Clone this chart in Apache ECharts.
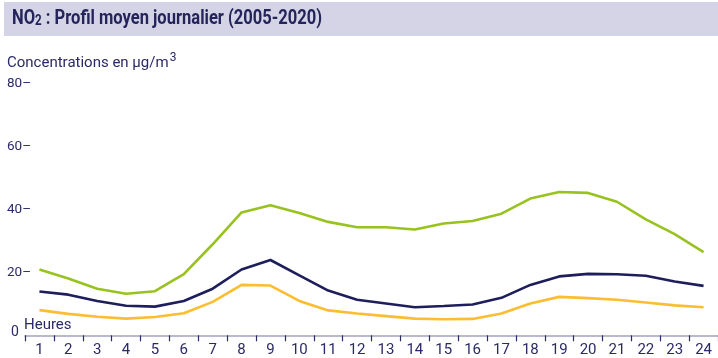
<!DOCTYPE html>
<html>
<head>
<meta charset="utf-8">
<script src="https://cdn.jsdelivr.net/npm/echarts@6/dist/echarts.min.js"></script>
<style>
  html, body { margin: 0; padding: 0; background: #ffffff; }
  #chart { width: 718px; height: 358px; }
</style>
</head>
<body>
<div id="chart"></div>
<script>
// Hours of the day (x axis categories)
const hours = ['1','2','3','4','5','6','7','8','9','10','11','12','13','14','15','16','17','18','19','20','21','22','23','24'];

// Mean NO2 concentration per hour, µg/m3
const seriesGreen = [20.9, 18.0, 14.8, 13.2, 14.0, 19.4, 28.9, 39.0, 41.3, 38.8, 36.0, 34.3, 34.3, 33.6, 35.5, 36.3, 38.6, 43.4, 45.5, 45.2, 42.4, 36.8, 32.1, 26.4];
const seriesNavy = [13.9, 12.9, 10.9, 9.4, 9.1, 10.9, 14.8, 20.9, 23.9, 19.0, 14.2, 11.3, 10.1, 8.9, 9.3, 9.8, 11.9, 16.0, 18.7, 19.5, 19.4, 18.9, 17.1, 15.7];
const seriesYellow = [8.0, 6.8, 5.9, 5.3, 5.8, 7.0, 10.6, 16.0, 15.8, 10.9, 7.9, 6.9, 6.1, 5.3, 5.1, 5.2, 6.9, 10.1, 12.2, 11.8, 11.3, 10.4, 9.5, 8.9];

// Value axis ticks
const yTicks = [0, 20, 40, 60, 80];

const TEXT = '#2b2a66';
const FONT = 'Roboto, "Open Sans", sans-serif';
const TITLE_FONT = 'Roboto, sans-serif';

// Condensed look for the heading: squeeze the bold text to its target width
function titleScale(targetWidth) {
  const ctx = document.createElement('canvas').getContext('2d');
  ctx.font = 'bold 20px ' + TITLE_FONT;
  const w1 = ctx.measureText('NO').width;
  const w3 = ctx.measureText(' : Profil moyen journalier (2005-2020)').width;
  ctx.font = 'bold 14px ' + TITLE_FONT;
  const w2 = ctx.measureText('2').width;
  return targetWidth / (w1 + w2 + w3);
}

const chart = echarts.init(document.getElementById('chart'), null, { renderer: 'canvas' });

function lineSeries(name, data, color) {
  return {
    name: name,
    type: 'line',
    data: data,
    symbol: 'none',
    smooth: false,
    lineStyle: { color: color, width: 2.6 },
    itemStyle: { color: color },
    z: 3
  };
}

chart.setOption({
  animation: false,
  backgroundColor: '#ffffff',
  grid: { left: 25, top: 83.3, width: 702.3, bottom: 22.7, containLabel: false },
  xAxis: {
    type: 'category',
    data: hours,
    boundaryGap: true,
    axisLine: { show: true, lineStyle: { color: '#a3a3bd', width: 1.5 } },
    axisTick: { show: true, alignWithLabel: false, length: 6, lineStyle: { color: '#2b2a66', width: 1.2 } },
    axisLabel: { color: TEXT, fontFamily: FONT, fontSize: 15, margin: 7, interval: 0 },
    splitLine: { show: false }
  },
  yAxis: {
    type: 'value',
    min: yTicks[0],
    max: yTicks[yTicks.length - 1],
    interval: 20,
    axisLine: { show: false },
    axisTick: { show: false },
    splitLine: { show: false },
    axisLabel: {
      align: 'left',
      margin: 18,
      color: TEXT,
      fontFamily: FONT,
      fontSize: 13.5,
      formatter: function (v) {
        return v === 0 ? '{z|0}' : v + '\u2013';
      },
      rich: {
        z: { color: TEXT, fontFamily: FONT, fontSize: 14, padding: [0, 0, 6, 4] }
      }
    }
  },
  series: [
    lineSeries('green', seriesGreen, '#98c21f'),
    lineSeries('navy', seriesNavy, '#1f1e5c'),
    lineSeries('yellow', seriesYellow, '#fcbd30')
  ],
  graphic: [
    {
      type: 'rect',
      shape: { x: 4, y: 2, width: 714, height: 34 },
      style: { fill: '#d4d4e6' },
      silent: true
    },
    {
      type: 'text',
      x: 12,
      y: 9,
      scaleX: titleScale(310),
      style: {
        text: '{a|NO}{b|2}{a| : Profil moyen journalier (2005-2020)}',
        rich: {
          a: { fontFamily: TITLE_FONT, fontWeight: 'bold', fontSize: 20, fill: '#24235a', verticalAlign: 'bottom' },
          b: { fontFamily: TITLE_FONT, fontWeight: 'bold', fontSize: 14, fill: '#24235a', verticalAlign: 'bottom', padding: [0, 0, 1, 0] }
        }
      }
    },
    {
      type: 'text',
      left: 7,
      top: 52,
      style: {
        text: '{a|Concentrations en \u00b5g/m}{s|3}',
        rich: {
          a: { fontFamily: FONT, fontSize: 15, fill: TEXT, verticalAlign: 'bottom' },
          s: { fontFamily: FONT, fontSize: 12, fill: TEXT, verticalAlign: 'bottom', padding: [0, 0, 7, 1] }
        }
      }
    },
    {
      type: 'text',
      left: 24,
      top: 318,
      style: { text: 'Heures', fontFamily: FONT, fontSize: 15, fill: TEXT }
    }
  ]
});
</script>
</body>
</html>
